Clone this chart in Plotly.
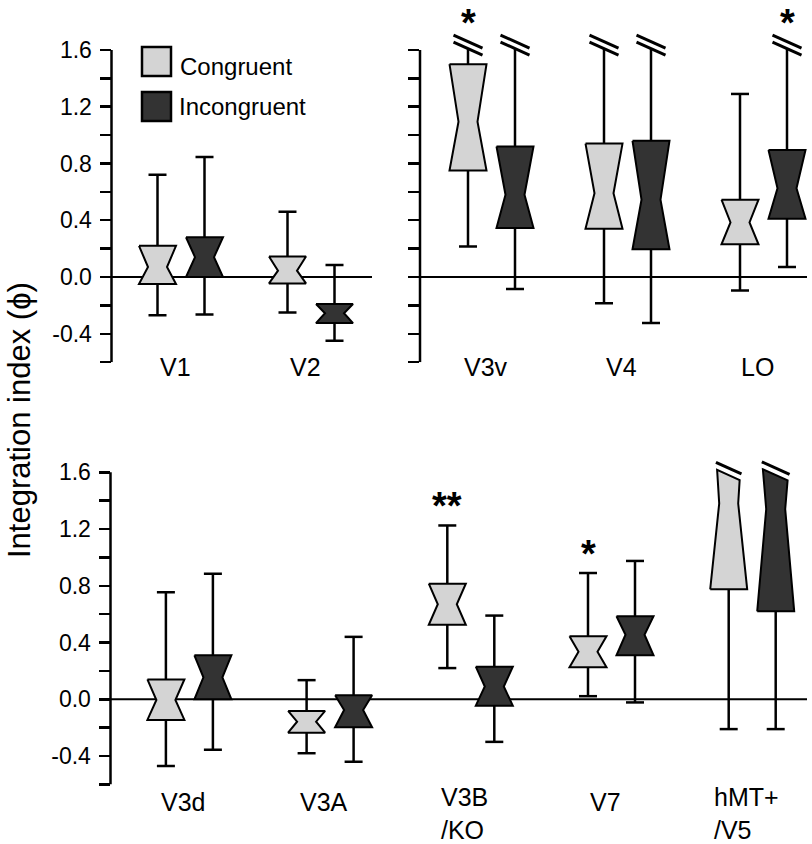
import plotly.graph_objects as go

# ---------------- data ----------------
CATS_TL = ["V1", "V2"]
CATS_TR = ["V3v", "V4", "LO"]
CATS_B = ["V3d", "V3A", "V3B<br>/KO", "V7", "hMT+<br>/V5"]

# per category: (lower whisker, Q1, median, Q3, upper whisker)
CON_TL = [(-0.27, -0.05, 0.07, 0.22, 0.72), (-0.25, -0.045, 0.045, 0.145, 0.46)]
INC_TL = [(-0.265, 0.0, 0.14, 0.28, 0.845), (-0.45, -0.325, -0.255, -0.19, 0.085)]

CON_TR = [(0.215, 0.75, 1.095, 1.50, 1.95), (-0.185, 0.34, 0.59, 0.94, 1.90), (-0.095, 0.23, 0.385, 0.545, 1.29)]
INC_TR = [(-0.085, 0.345, 0.58, 0.92, 1.90), (-0.325, 0.195, 0.545, 0.96, 2.00), (0.07, 0.41, 0.625, 0.895, 1.85)]

CON_B = [(-0.47, -0.145, -0.005, 0.14, 0.755), (-0.38, -0.235, -0.158, -0.082, 0.135),
         (0.22, 0.525, 0.67, 0.815, 1.225), (0.022, 0.225, 0.335, 0.445, 0.89),
         (-0.21, 0.775, 1.38, 2.40, 2.80)]
INC_B = [(-0.355, 0.0, 0.155, 0.31, 0.885), (-0.44, -0.197, -0.075, 0.028, 0.44),
         (-0.30, -0.045, 0.09, 0.23, 0.59), (-0.022, 0.31, 0.455, 0.585, 0.975),
         (-0.21, 0.62, 1.34, 2.10, 2.60)]

SIG_CON_TL = ["", ""]
SIG_INC_TL = ["", ""]
SIG_CON_TR = ["*", "", ""]
SIG_INC_TR = ["", "", "*"]
SIG_CON_B = ["", "", "**", "*", ""]
SIG_INC_B = ["", "", "", "", ""]

TICK_VALS = [-0.6, -0.4, -0.2, 0.0, 0.2, 0.4, 0.6, 0.8, 1.0, 1.2, 1.4, 1.6]
TICK_TEXT = ["", "-0.4", "", "0.0", "", "0.4", "", "0.8", "", "1.2", "", "1.6"]

SERIES = ["Congruent", "Incongruent"]
COLORS = ["#d4d4d4", "#333333"]

# ---------------- layout constants ----------------
W, H = 812, 844
PXY = 141.9          # pixels per unit on y
FONT = "Liberation Sans, Arial, Helvetica, sans-serif"
BOX_HW = 18.5
NOTCH_HW = 9.5
CAP_HW = 9.0
OFFSET = 23.5
TOP = 1.6
WHISK_CUT = 1.61
BOX_CUT = 1.58
BREAK_GAP = 7.0
BREAK_SLOPE = 0.45
BREAK_HW = 14.5

panels = [
    dict(k=1, cats=CATS_TL, con=CON_TL, inc=INC_TL, sc=SIG_CON_TL, si=SIG_INC_TL,
         x_px=(111.5, 372.0), zero_py=277.0, top_py=0.0, unit=130.0, c0=181.0, labels=True),
    dict(k=2, cats=CATS_TR, con=CON_TR, inc=INC_TR, sc=SIG_CON_TR, si=SIG_INC_TR,
         x_px=(420.0, 807.0), zero_py=277.0, top_py=0.0, unit=136.0, c0=491.5, labels=False),
    dict(k=3, cats=CATS_B, con=CON_B, inc=INC_B, sc=SIG_CON_B, si=SIG_INC_B,
         x_px=(110.5, 807.0), zero_py=699.3, top_py=400.0, unit=140.7, c0=189.4, labels=True),
]

fig = go.Figure()
shapes = []
annotations = []
layout_axes = {}


def notch_box(xc, unit, q1, med, q3):
    hw = BOX_HW / unit
    nw = NOTCH_HW / unit
    if q3 <= TOP:
        xs = [xc - hw, xc + hw, xc + nw, xc + hw, xc - hw, xc - nw, xc - hw]
        ys = [q3, q3, med, q1, q1, med, q3]
        return xs, ys, None
    s = BREAK_SLOPE / PXY
    dw = BOX_HW - NOTCH_HW
    tl = (BOX_CUT + s * NOTCH_HW - med) / ((q3 - med) - s * dw)
    xl_px = -(NOTCH_HW + tl * dw)
    yl = med + tl * (q3 - med)
    tr = (BOX_CUT - s * NOTCH_HW - med) / ((q3 - med) + s * dw)
    xr_px = NOTCH_HW + tr * dw
    yr = med + tr * (q3 - med)
    xs = [xc - hw, xc - nw, xc + xl_px / unit, xc + xr_px / unit, xc + nw, xc + hw, xc - hw]
    ys = [q1, med, yl, yr, med, q1, q1]
    return xs, ys, (xl_px, xr_px)


def break_line(xc, yc, unit, h):
    s = BREAK_SLOPE / PXY
    return [xc - h / unit, xc + h / unit], [yc + s * h, yc - s * h]


for p in panels:
    k = p["k"]
    xr = "x" if k == 1 else f"x{k}"
    yr = "y" if k == 1 else f"y{k}"
    unit = p["unit"]
    bottom_py = p["zero_py"] + 0.6 * PXY
    y_top = (p["zero_py"] - p["top_py"]) / PXY
    xname = "xaxis" if k == 1 else f"xaxis{k}"
    yname = "yaxis" if k == 1 else f"yaxis{k}"
    layout_axes[xname] = dict(
        domain=[p["x_px"][0] / W, p["x_px"][1] / W],
        range=[(p["x_px"][0] - p["c0"]) / unit, (p["x_px"][1] - p["c0"]) / unit],
        visible=False, anchor=yr, fixedrange=True)
    layout_axes[yname] = dict(
        domain=[1 - bottom_py / H, 1 - p["top_py"] / H],
        range=[-0.6, y_top], anchor=xr,
        tickmode="array", tickvals=TICK_VALS,
        ticktext=TICK_TEXT if p["labels"] else [""] * len(TICK_VALS),
        ticks="outside", ticklen=11, tickwidth=2.5, tickcolor="black",
        ticklabelstandoff=3,
        showgrid=False, zeroline=False, showline=False,
        tickfont=dict(family=FONT, size=23, color="black"), fixedrange=True)

    # zero line and y-axis line
    shapes.append(dict(type="line", xref=f"{xr} domain", yref=yr, x0=0, x1=1, y0=0, y1=0,
                       line=dict(color="black", width=2), layer="below"))
    shapes.append(dict(type="line", xref=f"{xr} domain", yref=yr, x0=0, x1=0, y0=-0.6, y1=TOP,
                       line=dict(color="black", width=2.5)))

    for si, (series, sigs) in enumerate([(p["con"], p["sc"]), (p["inc"], p["si"])]):
        sign = -1 if si == 0 else 1
        for i, (wlo, q1, med, q3, whi) in enumerate(series):
            xc = i + sign * OFFSET / unit
            cap = CAP_HW / unit
            wx, wy = [], []
            # lower whisker + cap
            wx += [xc, xc, None, xc - cap, xc + cap, None]
            wy += [q1, wlo, None, wlo, wlo, None]
            breaks = []
            if whi <= TOP:
                wx += [xc, xc, None, xc - cap, xc + cap, None]
                wy += [q3, whi, None, whi, whi, None]
                top_disp = whi
            elif q3 < TOP:
                wx += [xc, xc, None]
                wy += [q3, WHISK_CUT, None]
                breaks.append(break_line(xc, WHISK_CUT, unit, BREAK_HW))
                breaks.append(break_line(xc, WHISK_CUT + BREAK_GAP / PXY, unit, BREAK_HW))
                top_disp = WHISK_CUT + BREAK_GAP / PXY
            else:
                top_disp = BOX_CUT + BREAK_GAP / PXY
            fig.add_trace(go.Scatter(x=wx, y=wy, mode="lines", xaxis=xr, yaxis=yr,
                                     line=dict(color="black", width=2.5),
                                     showlegend=False, hoverinfo="skip"))
            bx, by, cut = notch_box(xc, unit, q1, med, q3)
            fig.add_trace(go.Scatter(x=bx, y=by, mode="lines", fill="toself",
                                     fillcolor=COLORS[si], xaxis=xr, yaxis=yr,
                                     line=dict(color="black", width=2),
                                     name=SERIES[si], showlegend=False, hoverinfo="skip"))
            if cut is not None:
                h = (abs(cut[0]) + abs(cut[1])) / 2 + 1.5
                breaks.append(break_line(xc, BOX_CUT + BREAK_GAP / PXY, unit, h))
            for bxl, byl in breaks:
                fig.add_trace(go.Scatter(x=bxl, y=byl, mode="lines", xaxis=xr, yaxis=yr,
                                         line=dict(color="black", width=3),
                                         showlegend=False, hoverinfo="skip"))
            if sigs[i]:
                annotations.append(dict(x=xc, y=top_disp, xref=xr, yref=yr, text=sigs[i],
                                        showarrow=False, yanchor="bottom", xanchor="center",
                                        yshift=-4,
                                        font=dict(family=FONT, size=38, color="black",
                                                  weight="bold")))

    # category labels
    for i, c in enumerate(p["cats"]):
        two = "<br>" in c
        if k == 3:
            ly = 813.5 if two else 802.0
        else:
            ly = 367.0
        annotations.append(dict(x=i, y=1 - ly / H, xref=xr, yref="paper", text=c,
                                showarrow=False, xanchor="center", yanchor="middle",
                                align="left", xshift=-6,
                                font=dict(family=FONT, size=25, color="black")))

# legend (manual)
LEG = [(142, 47, 171, 76, 66.5, 178), (142, 92, 171, 121, 106.5, 177)]
for (x0, y0, x1, y1, ty, tx), name, col in zip(LEG, SERIES, COLORS):
    shapes.append(dict(type="rect", xref="paper", yref="paper",
                       x0=x0 / W, x1=x1 / W, y0=1 - y0 / H, y1=1 - y1 / H,
                       fillcolor=col, line=dict(color="black", width=2.5)))
    annotations.append(dict(x=tx / W, y=1 - ty / H, xref="paper", yref="paper", text=name,
                            showarrow=False, xanchor="left", yanchor="middle",
                            font=dict(family=FONT, size=24, color="black")))

# y-axis title
annotations.append(dict(x=20 / W, y=1 - 420 / H, xref="paper", yref="paper",
                        text="Integration index (ϕ)", textangle=-90, showarrow=False,
                        xanchor="center", yanchor="middle",
                        font=dict(family=FONT, size=31, color="black")))

fig.update_layout(width=W, height=H, margin=dict(l=0, r=0, t=0, b=0),
                  paper_bgcolor="white", plot_bgcolor="rgba(0,0,0,0)",
                  shapes=shapes, annotations=annotations, showlegend=False,
                  **layout_axes)

fig.write_html("out.html", config={"displayModeBar": False, "staticPlot": True},
               post_script="document.body.style.margin='0px';"
                           "document.body.style.overflow='hidden';")
